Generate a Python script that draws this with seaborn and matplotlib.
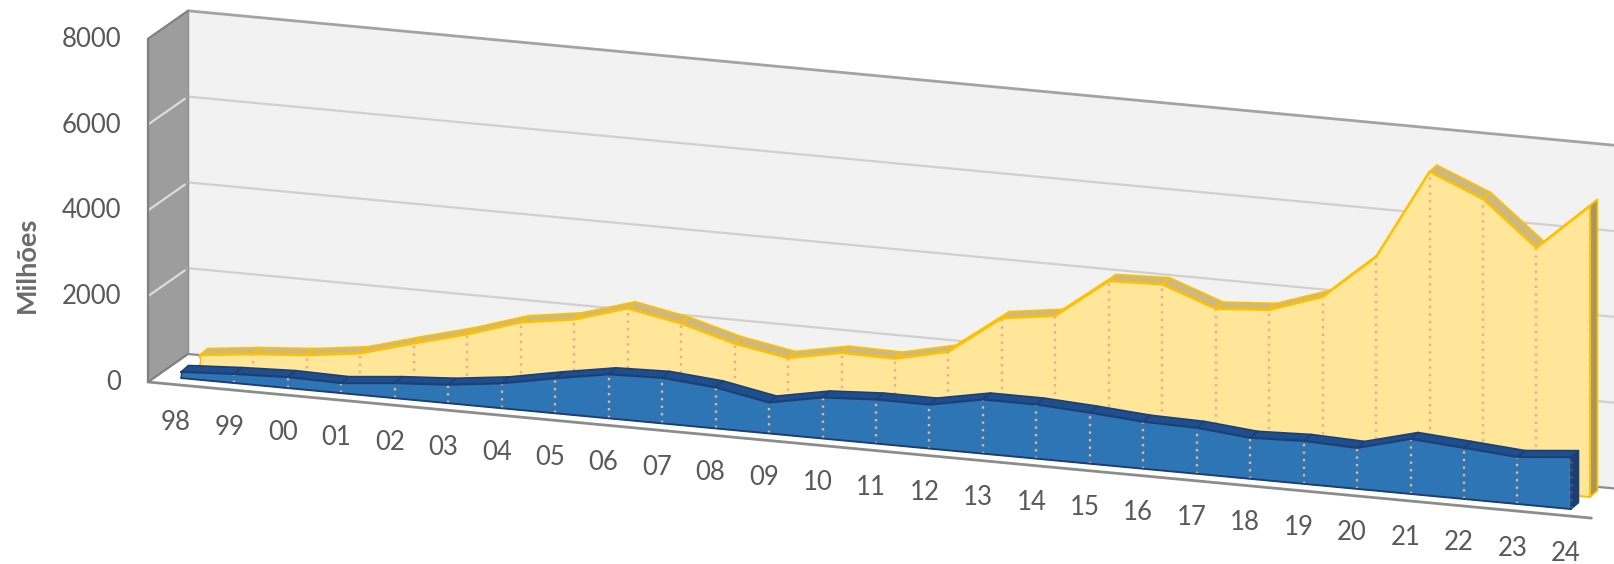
import numpy as np
import pandas as pd
import matplotlib
matplotlib.use('Agg')
import matplotlib.pyplot as plt
from matplotlib.transforms import Affine2D
import seaborn as sns

# ------------------------------
# Data
# ------------------------------
anos = ['98', '99', '00', '01', '02', '03', '04', '05', '06', '07', '08', '09', '10', '11',
        '12', '13', '14', '15', '16', '17', '18', '19', '20', '21', '22', '23', '24']
serie_amarela = [256, 396, 490, 650, 1000, 1330, 1725, 1910, 2285, 2050, 1700, 1480, 1720, 1700,
                 1980, 2880, 3050, 3980, 4020, 3570, 3660, 4080, 5130, 7230, 6715, 5690, 6785]
serie_azul = [140, 210, 256, 233, 350, 430, 580, 815, 1025, 1060, 955, 720, 955, 1025,
              1025, 1260, 1260, 1190, 1095, 1070, 955, 1000, 955, 1280, 1190, 1095, 1210]
valores_y = [0, 2000, 4000, 6000, 8000]

# ------------------------------
# Oblique projection of the fake 3D box
# ------------------------------
STEP = 53.46           # px per category
RISE = 5.04            # px the floor drops per category
PX_PER_UNIT = 0.0429   # px per unit of value


def plano(x0, y0):
    """Plane of the box: (category, value) -> picture pixels."""
    return Affine2D(np.array([[STEP, 0, x0], [RISE, -PX_PER_UNIT, y0], [0, 0, 1]]))


sns.set_theme(style='white')
plt.rcParams['font.family'] = ['Lato', 'DejaVu Sans']

fig = plt.figure(figsize=(16.15, 5.64), dpi=100)
ax = fig.add_axes([0, 0, 1, 1])

idx = np.arange(len(anos))
df = pd.DataFrame({'i': idx, 'amarela': serie_amarela, 'azul': serie_azul})

plano_fundo = plano(188, 354)
plano_frente = plano(148, 382)
plano_amarelo = plano(200, 366)
plano_azul = plano(181, 378)
plano_rotulos = plano(176, 422)
plano_valores = plano(148, 385)
# side wall: depth 0 (back) to 1 (front), value upwards
parede = Affine2D(np.array([[-40, 0, 188], [28, -PX_PER_UNIT, 354], [0, 0, 1]]))

# ------------------------------
# Walls and floor
# ------------------------------
ax.fill_between([0, 27], 0, 8000, transform=plano_fundo + ax.transData, color='#f2f2f2', lw=0, zorder=1)
ax.fill_betweenx([0, 8000], 0, 1, transform=parede + ax.transData, color='#9d9d9d', lw=0, zorder=1)

for v in valores_y[1:-1]:
    ax.plot([0, 27], [v, v], transform=plano_fundo + ax.transData, color='#d0d0d0', lw=1.6, zorder=2)
    ax.plot([0.08, 1], [v, v], transform=parede + ax.transData, color='#dcdcdc', lw=1.6, zorder=2)
ax.plot([0, 27], [8000, 8000], transform=plano_fundo + ax.transData, color='#a3a3a3', lw=2, zorder=2)
ax.plot([0, 27], [0, 0], transform=plano_fundo + ax.transData, color='#8c8c8c', lw=1.6, zorder=2)
ax.plot([0, 27], [0, 0], transform=plano_frente + ax.transData, color='#8c8c8c', lw=2, zorder=2)
ax.plot([0, 1, 1, 0], [0, 0, 8000, 8000], transform=parede + ax.transData, color='#808080', lw=1.6, zorder=3)
ax.plot([0, 0], [0, 8000], transform=parede + ax.transData, color='#8f8f8f', lw=1, zorder=3)


def desenha_area(coluna, tr_frente, prof, cor_area, cor_borda, cor_topo, cor_lado, cor_pontos, z, lw_borda):
    """Ribbons and end cap behind, then the front face and its drop lines."""
    tr = tr_frente + ax.transData
    vals = df[coluna].to_numpy(dtype=float)
    topo = tr_frente.transform(np.column_stack([idx, vals]))
    base = tr_frente.transform(np.column_stack([idx, np.zeros(len(idx))]))
    for k in range(len(idx) - 1):
        quad = np.vstack([topo[k], topo[k + 1], topo[k + 1] + prof, topo[k] + prof])
        ax.fill(quad[:, 0], quad[:, 1], facecolor=cor_topo, edgecolor=cor_borda, lw=1.2,
                joinstyle='round', zorder=z)
    lado = np.vstack([topo[-1], topo[-1] + prof, base[-1] + prof, base[-1]])
    ax.fill(lado[:, 0], lado[:, 1], facecolor=cor_lado, edgecolor=cor_borda, lw=1.2, zorder=z)
    ax.fill_between(idx, 0, vals, transform=tr, color=cor_area, lw=0, zorder=z + 1)
    ax.vlines(idx, 0, vals, transform=tr, colors=cor_pontos, linestyles=(0, (1, 2.2)), lw=1.7, zorder=z + 2)
    sns.lineplot(data=df, x='i', y=coluna, ax=ax, transform=tr, color=cor_borda, lw=lw_borda,
                 errorbar=None, zorder=z + 3)
    ax.plot([0, 0], [0, vals[0]], transform=tr, color=cor_borda, lw=1, zorder=z + 3)
    ax.plot([idx[-1], idx[-1]], [0, vals[-1]], transform=tr, color=cor_borda, lw=1.2, zorder=z + 3)
    ax.plot([0, idx[-1]], [0, 0], transform=tr, color=cor_borda, lw=1.4, zorder=z + 3)


desenha_area('amarela', plano_amarelo, np.array([7.5, -6.5]), '#ffe699', '#ffc000', '#cdb97f', '#a8975c',
             '#f6a48a', 5, 1.8)
desenha_area('azul', plano_azul, np.array([7.5, -6.5]), '#2e75b6', '#1c3f75', '#1f4e8c', '#1b3f72',
             '#efb184', 10, 1.5)

# ------------------------------
# Text
# ------------------------------
for i, rotulo in enumerate(anos):
    ax.text(i, 0, rotulo, transform=plano_rotulos + ax.transData, ha='center', va='center',
            fontsize=18.5, color='#595959')
for v in valores_y:
    ax.text(-0.5, v, str(v), transform=plano_valores + ax.transData, ha='right', va='center',
            fontsize=18.5, color='#595959')
ax.text(27, 265, 'Milhões', rotation=90, ha='center', va='center', fontsize=19.5, fontweight='bold',
        color='#6b6b6b')

ax.set_xlim(0, 1615)
ax.set_ylim(564, 0)
ax.axis('off')

fig.savefig('out.png', dpi=100)
